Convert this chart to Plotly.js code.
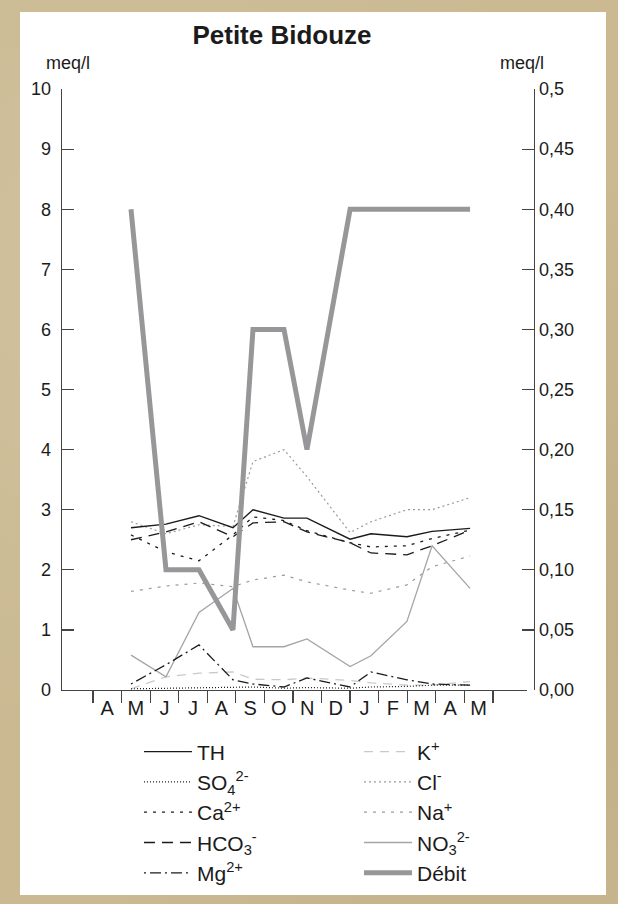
<!DOCTYPE html>
<html><head><meta charset="utf-8">
<script src="https://cdn.plot.ly/plotly-3.0.1.min.js"></script>
<style>
html,body{margin:0;padding:0;width:618px;height:904px;overflow:hidden;
background:#cab991;}
body{background-image:radial-gradient(circle at 20% 30%, rgba(255,255,255,0.12), rgba(0,0,0,0) 60%),radial-gradient(circle at 80% 70%, rgba(90,70,30,0.10), rgba(0,0,0,0) 60%);}
#chart{position:absolute;left:20px;top:12px;width:586px;height:883px;background:#fff}
</style></head><body><div id="chart"></div>
<script>
// sample positions, in months counted from 1 April (first tick)
const sampleMonth = [1.33, 2.555, 3.71, 4.90, 5.60, 6.685, 7.49, 9.0, 9.73, 10.99, 11.87, 13.2];
const monthBounds = [0,1,2,3,4,5,6,7,8,9,10,11,12,13,14];
const monthCenters = [0.5,1.5,2.5,3.5,4.5,5.5,6.5,7.5,8.5,9.5,10.5,11.5,12.5,13.5];
const monthLetters = ['A','M','J','J','A','S','O','N','D','J','F','M','A','M'];

const TH   = [2.70, 2.76, 2.90, 2.70, 3.00, 2.86, 2.86, 2.51, 2.60, 2.55, 2.64, 2.69];
const SO4  = [0.02, 0.03, 0.03, 0.04, 0.05, 0.03, 0.04, 0.03, 0.05, 0.06, 0.08, 0.08];
const Ca   = [2.58, 2.30, 2.15, 2.58, 2.88, 2.82, 2.65, 2.45, 2.38, 2.40, 2.52, 2.66];
const HCO3 = [2.50, 2.63, 2.80, 2.55, 2.78, 2.80, 2.63, 2.45, 2.28, 2.25, 2.40, 2.66];
const Mg   = [0.10, 0.42, 0.75, 0.17, 0.10, 0.05, 0.20, 0.05, 0.30, 0.17, 0.10, 0.08];
const K    = [0.02, 0.22, 0.28, 0.30, 0.18, 0.17, 0.20, 0.16, 0.12, 0.08, 0.08, 0.14];
const Cl   = [2.80, 2.60, 2.75, 2.72, 3.80, 4.00, 3.55, 2.62, 2.80, 3.00, 3.00, 3.20];
const Na   = [1.64, 1.73, 1.78, 1.72, 1.83, 1.91, 1.80, 1.66, 1.61, 1.75, 2.05, 2.23];
const NO3  = [0.58, 0.22, 1.29, 1.69, 0.72, 0.72, 0.85, 0.39, 0.57, 1.14, 2.40, 1.69];
const Debit = [0.40, 0.10, 0.10, 0.05, 0.30, 0.30, 0.20, 0.40, 0.40, 0.40, 0.40, 0.40];

const leftTicks = [0,1,2,3,4,5,6,7,8,9,10];
const rightTicks = [0,0.05,0.10,0.15,0.20,0.25,0.30,0.35,0.40,0.45,0.5];
const rightLabels = ['0,00','0,05','0,10','0,15','0,20','0,25','0,30','0,35','0,40','0,45','0,5'];

const FONT = 'Liberation Sans, Arial, Helvetica, sans-serif';
const BLACK = '#1b1b1b';

function tr(name, y, color, width, dash, rank, axis) {
  return {type:'scatter', mode:'lines', x: sampleMonth, y: y, name: name,
    yaxis: axis || 'y', legendrank: rank,
    line: {color: color, width: width, dash: dash}, hoverinfo:'skip'};
}

const data = [
  tr('Na<sup>+</sup>', Na, '#9b9b9b', 1.2, '3px,6px', 6),
  tr('Cl<sup>-</sup>', Cl, '#9b9b9b', 1.2, '2px,3px', 4),
  tr('K<sup>+</sup>', K, '#c9c9c9', 1.3, '9px,7px', 2),
  tr('NO<sub>3</sub><sup>2-</sup>', NO3, '#a5a5a5', 1.3, 'solid', 8),
  tr('SO<sub>4</sub><sup>2-</sup>', SO4, BLACK, 1.2, '1px,2px', 3),
  tr('Ca<sup>2+</sup>', Ca, BLACK, 1.3, '3px,6px', 5),
  tr('HCO<sub>3</sub><sup>-</sup>', HCO3, BLACK, 1.3, '11px,7px', 7),
  tr('Mg<sup>2+</sup>', Mg, BLACK, 1.3, '2px,4px,11px,4px', 9),
  tr('TH', TH, BLACK, 1.4, 'solid', 1),
  tr('Débit', Debit, '#97979a', 5, 'solid', 10, 'y2')
];

const layout = {
  width: 586, height: 883,
  paper_bgcolor: '#ffffff', plot_bgcolor: 'rgba(0,0,0,0)',
  margin: {l: 42, r: 72, t: 77, b: 205, autoexpand: false},
  font: {family: FONT, color: '#1b1b1b', size: 18},
  title: {text: 'Petite Bidouze', font: {family: FONT, size: 26, weight: 'bold', color: '#1b1b1b'},
    xref: 'container', x: 262/586, xanchor: 'center', yref: 'container', y: 1 - 23/883, yanchor: 'middle'},
  showlegend: true,
  legend: {orientation: 'h', x: 0.1631, xanchor: 'left', y: -0.069, yanchor: 'top',
    entrywidth: 157, entrywidthmode: 'pixels', itemwidth: 48,
    font: {family: FONT, size: 21, color: '#1b1b1b'}, bgcolor: 'rgba(0,0,0,0)', traceorder: 'normal'},
  xaxis: {domain: [0, 0.985], range: [-1.085, 15.19], showgrid: false, zeroline: false, showline: true,
    linecolor: '#444', linewidth: 1.3,
    tickmode: 'array', tickvals: monthCenters, ticktext: monthLetters, ticks: '',
    tickfont: {family: FONT, size: 20, color: '#1b1b1b'},
    minor: {tickmode: 'array', tickvals: monthBounds, ticks: 'outside', ticklen: 12, tickwidth: 1.2, tickcolor: '#444', showgrid: false},
    fixedrange: true},
  yaxis: {range: [0, 10], showgrid: false, zeroline: false, showline: true, linecolor: '#444', linewidth: 1.3,
    tickmode: 'array', tickvals: leftTicks, ticks: 'inside', ticklen: 12, tickwidth: 1.2, tickcolor: '#444',
    ticklabelstandoff: 6,
    tickfont: {family: FONT, size: 18, color: '#1b1b1b'}, fixedrange: true},
  yaxis2: {range: [0, 0.5], overlaying: 'y', side: 'right', anchor: 'free', position: 1,
    showgrid: false, zeroline: false, showline: true,
    linecolor: '#444', linewidth: 1.3,
    tickmode: 'array', tickvals: rightTicks, ticktext: rightLabels, ticks: 'inside', ticklen: 12, tickwidth: 1.2, tickcolor: '#444',
    tickfont: {family: FONT, size: 18, color: '#1b1b1b'}, fixedrange: true},
  annotations: [
    {text: 'meq/l', xref: 'paper', yref: 'paper', x: 0.0127, y: 1.043, xanchor: 'center', yanchor: 'middle', showarrow: false,
      font: {family: FONT, size: 18, color: '#1b1b1b'}},
    {text: 'meq/l', xref: 'paper', yref: 'paper', x: 0.975, y: 1.043, xanchor: 'center', yanchor: 'middle', showarrow: false,
      font: {family: FONT, size: 18, color: '#1b1b1b'}}
  ]
};

Plotly.newPlot('chart', data, layout, {staticPlot: true, displayModeBar: false});
</script></body></html>
